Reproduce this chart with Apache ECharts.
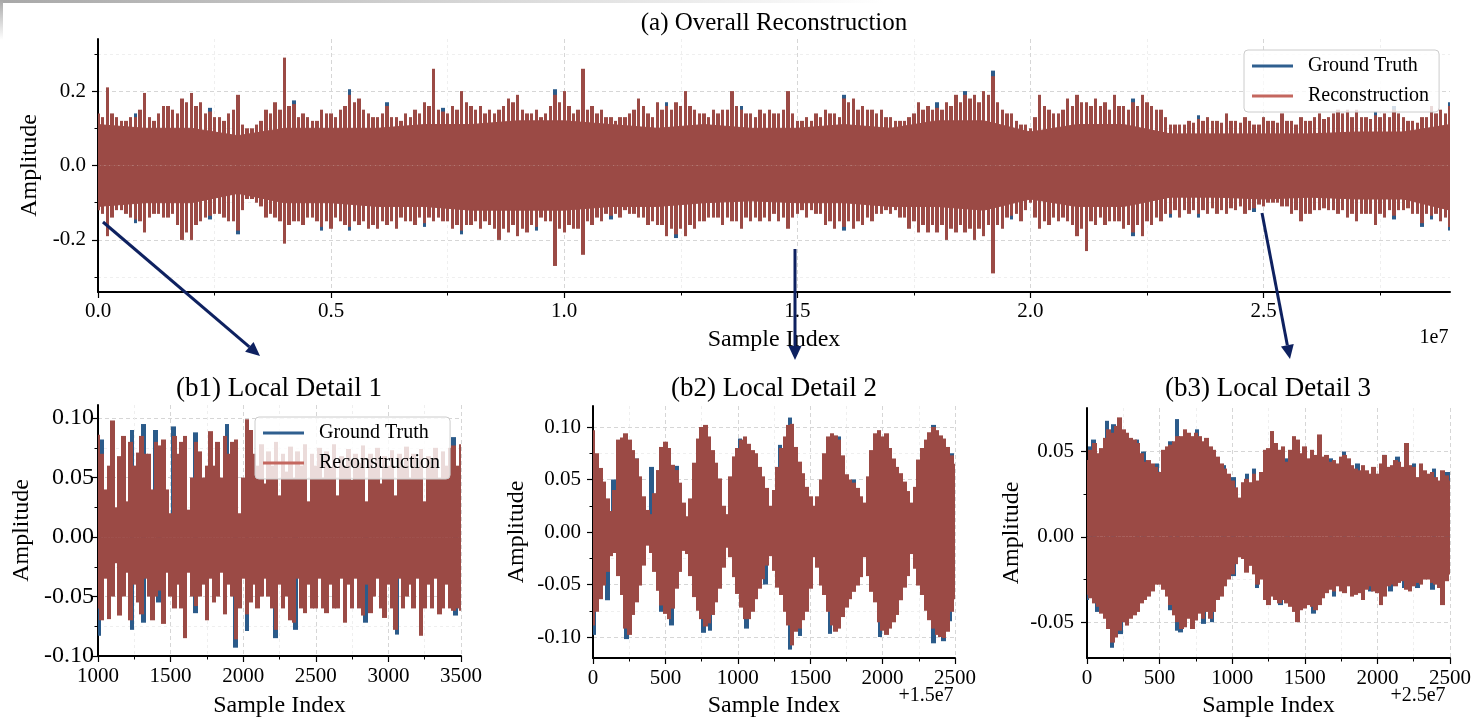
<!DOCTYPE html>
<html>
<head>
<meta charset="utf-8">
<title>Reconstruction</title>
<script src="https://cdn.jsdelivr.net/npm/echarts@6/dist/echarts.min.js"></script>
<style>
    html, body { margin: 0; padding: 0; background: #fff; }
    #main { width: 1474px; height: 719px; }
</style>
</head>
<body>
<div id="main"></div>
<script>
// ---- (a) overall: x in units of 1e7 samples ----
var topStep = 0.02;       // spike bins
var topBodyStep = 0.1;    // dense band level
var topBodyHi = [.11,.10,.10,.08,.10,.10,.10,.11,.11,.12, .12,.11,.10,.11,.10,.10,.11,.10,.12,.12, .09,.11,.11,.085,.085,.085,.085,.09,.09,.11];
var topBodyLo = [-.11,-.10,-.10,-.075,-.10,-.10,-.11,-.11,-.12,-.12, -.12,-.11,-.11,-.10,-.095,-.10,-.10,-.11,-.11,-.12, -.09,-.11,-.11,-.085,-.085,-.09,-.085,-.09,-.09,-.12];
// tallest spike in each bin (bins at 0, 0.02, 0.04 ...)
var topSpkHi = [
    .14,.21,.13,.12,.13,.195,.12,.16,.15,.18,
    .195,.17,.145,.13,.14,.19,.10,.11,.15,.17,
    .29,.165,.14,.12,.15,.14,.15,.19,.18,.14,
    .13,.16,.13,.14,.15,.17,.26,.145,.16,.20,
    .16,.16,.15,.15,.18,.19,.14,.15,.14,.19,
    .20,.14,.26,.16,.15,.13,.13,.14,.18,.14,
    .17,.16,.17,.20,.15,.14,.15,.15,.20,.15,
    .14,.15,.15,.14,.20,.12,.13,.14,.15,.14,
    .18,.18,.16,.15,.15,.13,.12,.13,.17,.16,
    .155,.17,.19,.19,.19,.20,.24,.15,.14,.11,
    .10,.19,.15,.14,.18,.19,.17,.18,.17,.19,
    .16,.17,.19,.16,.15,.11,.11,.12,.125,.13,
    .12,.14,.12,.13,.11,.13,.12,.14,.12,.13,
    .12,.14,.13,.15,.15,.15,.13,.135,.14,.15,
    .13,.12,.13,.16,.15,.16
];
var topSpkLo = [
    -.12,-.19,-.12,-.13,-.145,-.18,-.13,-.14,-.13,-.20,
    -.20,-.15,-.135,-.13,-.15,-.175,-.09,-.10,-.14,-.14,
    -.21,-.15,-.16,-.14,-.165,-.17,-.15,-.165,-.16,-.17,
    -.17,-.16,-.17,-.15,-.16,-.155,-.15,-.15,-.17,-.175,
    -.16,-.17,-.16,-.20,-.18,-.19,-.18,-.165,-.15,-.27,
    -.18,-.17,-.24,-.16,-.15,-.135,-.14,-.13,-.14,-.16,
    -.16,-.19,-.185,-.19,-.17,-.15,-.14,-.16,-.15,-.17,
    -.15,-.15,-.15,-.15,-.17,-.13,-.14,-.13,-.16,-.17,
    -.165,-.17,-.16,-.15,-.13,-.13,-.14,-.17,-.18,-.18,
    -.18,-.20,-.18,-.18,-.20,-.19,-.29,-.17,-.135,-.15,
    -.10,-.17,-.16,-.15,-.15,-.19,-.23,-.16,-.16,-.15,
    -.17,-.18,-.19,-.16,-.15,-.13,-.14,-.13,-.13,-.13,
    -.13,-.13,-.12,-.13,-.115,-.11,-.10,-.11,-.13,-.15,
    -.13,-.12,-.12,-.13,-.14,-.15,-.13,-.16,-.14,-.135,
    -.12,-.13,-.155,-.135,-.15,-.165
];
// in-between spikes (at 0.01, 0.03, 0.05 ...)
var topMidHi = [
    .13,.14,.12,.13,.15,.13,.14,.16,.14,.17,
    .16,.14,.13,.12,.15,.11,.10,.12,.14,.15,
    .16,.13,.13,.12,.14,.13,.16,.17,.15,.13,
    .14,.13,.12,.13,.14,.16,.15,.14,.15,.17,
    .15,.14,.14,.16,.17,.15,.14,.13,.16,.17,
    .16,.15,.15,.14,.13,.12,.13,.15,.16,.13,
    .15,.15,.16,.16,.14,.13,.14,.15,.16,.14,
    .13,.14,.14,.15,.14,.12,.12,.13,.14,.13,
    .17,.15,.15,.14,.13,.12,.12,.14,.15,.15,
    .15,.16,.17,.18,.17,.19,.17,.14,.12,.11,
    .13,.16,.14,.15,.16,.17,.16,.16,.15,.16,
    .15,.16,.17,.15,.13,.11,.11,.115,.12,.12,
    .115,.12,.115,.12,.11,.12,.115,.12,.11,.12,
    .13,.125,.14,.14,.13,.13,.125,.13,.13,.14,
    .12,.115,.13,.14,.14
];
var topMidLo = [
    -.13,-.14,-.12,-.14,-.15,-.14,-.13,-.14,-.16,-.18,
    -.16,-.14,-.13,-.14,-.15,-.12,-.09,-.11,-.13,-.15,
    -.16,-.15,-.14,-.15,-.15,-.14,-.16,-.15,-.15,-.16,
    -.15,-.15,-.14,-.15,-.14,-.14,-.14,-.15,-.16,-.16,
    -.15,-.15,-.17,-.17,-.16,-.17,-.16,-.14,-.15,-.17,
    -.16,-.17,-.15,-.14,-.13,-.13,-.12,-.13,-.14,-.15,
    -.16,-.17,-.17,-.16,-.15,-.14,-.14,-.14,-.15,-.14,
    -.14,-.14,-.13,-.14,-.14,-.12,-.12,-.13,-.15,-.15,
    -.15,-.15,-.14,-.13,-.12,-.12,-.14,-.15,-.16,-.16,
    -.16,-.17,-.16,-.17,-.17,-.16,-.16,-.14,-.13,-.12,
    -.14,-.15,-.14,-.14,-.16,-.17,-.15,-.14,-.15,-.15,
    -.16,-.16,-.15,-.14,-.13,-.12,-.12,-.12,-.12,-.115,
    -.12,-.115,-.11,-.12,-.105,-.10,-.10,-.11,-.12,-.13,
    -.12,-.115,-.12,-.12,-.13,-.13,-.13,-.13,-.12,-.12,
    -.115,-.13,-.13,-.13,-.14
];
// ground truth showing past the reconstruction
var topGt = [[0.08,.14],[0.24,.155],[0.42,.175],[0.54,.205],[0.62,.17],[0.74,.155],[0.98,.205],[1.22,.17],[1.38,.16],
    [1.60,.19],[1.80,.17],[1.86,.20],[1.92,.255],[2.22,.18],[2.36,.135],[2.74,.145],[2.78,.16],[2.90,.17],
    [0.08,-.155],[0.24,-.145],[0.30,-.185],[0.48,-.175],[0.54,-.175],[0.70,-.165],[0.78,-.185],[0.94,-.175],[1.10,-.145],
    [1.24,-.195],[1.60,-.175],[1.96,-.145],[2.22,-.19],[2.30,-.14],[2.36,-.14],[2.48,-.125],[2.78,-.145],[2.84,-.165],
    [2.86,-.145],[2.90,-.175]];

// ---- local details: bins of 25 samples ----
var binStep = 25;
var b1Start = 1000;
var b1Hi = [
    .086,.07,.04,.06,.098,.025,.068,.085,.03,.08,
    .06,.071,.085,.07,.07,.04,.08,.077,.082,.04,
    .02,.085,.07,.08,.085,.023,.05,.08,.072,.05,
    .06,.089,.06,.08,.05,.085,.07,.08,.082,.02,
    .05,.099,.09,.07,.06,.078,.045,.072,.06,.08,
    .035,.07,.055,.076,.05,.072,.06,.078,.03,.07,
    .06,.075,.05,.072,.058,.078,.035,.068,.06,.074,
    .048,.07,.062,.077,.03,.07,.058,.075,.045,.068,
    .06,.073,.035,.07,.06,.076,.05,.07,.058,.074,
    .03,.068,.06,.075,.05,.072,.06,.075,.077,.06,
    .078
];
var b1Lo = [
    -.06,-.07,-.035,-.069,-.05,-.022,-.066,-.05,-.03,-.07,
    -.04,-.055,-.065,-.035,-.05,-.07,-.05,-.045,-.073,-.03,
    -.05,-.06,-.04,-.06,-.085,-.03,-.05,-.058,-.05,-.04,
    -.07,-.035,-.055,-.05,-.03,-.065,-.04,-.05,-.086,-.06,
    -.035,-.065,-.055,-.04,-.06,-.05,-.035,-.05,-.06,-.078,
    -.04,-.06,-.05,-.07,-.072,-.035,-.06,-.064,-.04,-.06,
    -.06,-.035,-.06,-.064,-.04,-.06,-.06,-.035,-.072,-.04,
    -.06,-.035,-.06,-.066,-.04,-.064,-.05,-.035,-.06,-.068,
    -.04,-.06,-.078,-.035,-.06,-.05,-.04,-.06,-.035,-.083,
    -.06,-.04,-.06,-.035,-.065,-.06,-.04,-.06,-.062,-.06,
    -.062
];
var b1Gt = [[1028,.082],[1234,.09],[1315,.095],[1395,.09],[1521,.093],[1670,.088],[1888,.095],[3449,.084],
    [1005,-.083],[1234,-.078],[1315,-.072],[1418,-.055],[1670,-.064],[1946,-.093],[2026,-.079],[2221,-.085],
    [2359,-.078],[2841,-.072],[3059,-.082],[3461,-.066]];

var b2Start = 0;
var b2Hi = [
    .097,.075,.061,.048,.032,.020,.040,.088,.090,.094,
    .088,.078,.070,.053,.034,.021,.017,.037,.059,.081,
    .086,.080,.064,.059,.047,.028,.015,.032,.066,.089,
    .100,.102,.091,.078,.066,.051,.025,.017,.053,.072,
    .080,.088,.091,.084,.078,.075,.062,.053,.042,.025,
    .040,.062,.080,.091,.102,.103,.081,.067,.056,.043,
    .034,.025,.034,.050,.075,.091,.094,.092,.088,.073,
    .055,.050,.047,.042,.034,.028,.053,.078,.094,.097,
    .091,.094,.080,.070,.062,.056,.048,.039,.028,.043,
    .069,.080,.088,.095,.100,.097,.092,.089,.081,.073,
    .065
];
var b2Lo = [
    -.089,-.076,-.064,-.051,-.038,-.023,-.020,-.042,-.060,-.092,
    -.098,-.079,-.067,-.051,-.032,-.013,-.020,-.038,-.056,-.070,
    -.078,-.083,-.073,-.054,-.038,-.018,-.021,-.042,-.062,-.075,
    -.083,-.090,-.087,-.079,-.067,-.054,-.034,-.015,-.024,-.043,
    -.059,-.072,-.083,-.083,-.076,-.064,-.054,-.045,-.032,-.023,
    -.037,-.053,-.060,-.076,-.089,-.108,-.095,-.092,-.084,-.076,
    -.054,-.024,-.034,-.051,-.060,-.076,-.089,-.095,-.092,-.081,
    -.072,-.064,-.057,-.051,-.043,-.024,-.042,-.057,-.067,-.086,
    -.094,-.098,-.092,-.086,-.079,-.065,-.053,-.042,-.021,-.035,
    -.051,-.060,-.075,-.084,-.092,-.098,-.100,-.101,-.095,-.076,
    -.064
];
var b2Gt = [[2,-.098],[100,-.065],[232,-.102],[475,-.076],[543,-.089],[762,-.096],[808,-.094],[1061,-.092],[1190,-.05],
    [1360,-.112],[1430,-.099],[1637,-.097],[1700,-.09],[1982,-.1],[2350,-.106],[2420,-.104],[2465,-.085],
    [140,.05],[302,.07],[405,.062],[578,.063],[1015,.089],[1291,.083],[1360,.109],[1694,.091],[1798,.05],[2350,.102],[2480,.075]];

var b3Start = 0;
var b3Hi = [
    .045,.051,.055,.049,.052,.058,.063,.061,.065,.070,
    .063,.061,.058,.057,.055,.049,.044,.045,.043,.041,
    .038,.051,.053,.054,.056,.059,.059,.063,.061,.059,
    .061,.059,.056,.058,.053,.051,.047,.043,.040,.037,
    .033,.029,.023,.032,.034,.032,.037,.033,.038,.051,
    .052,.062,.055,.051,.053,.044,.051,.059,.057,.049,
    .053,.046,.051,.048,.060,.047,.048,.044,.045,.043,
    .047,.048,.046,.042,.040,.039,.042,.039,.037,.041,
    .037,.043,.048,.041,.042,.045,.044,.041,.055,.042,
    .041,.035,.043,.039,.037,.038,.035,.033,.039,.036,
    .033
];
var b3Lo = [
    -.034,-.036,-.039,-.041,-.045,-.048,-.054,-.062,-.059,-.055,
    -.050,-.052,-.048,-.046,-.044,-.039,-.037,-.035,-.032,-.028,
    -.028,-.031,-.035,-.040,-.046,-.050,-.054,-.053,-.048,-.054,
    -.049,-.045,-.048,-.044,-.048,-.044,-.037,-.035,-.029,-.025,
    -.022,-.016,-.012,-.013,-.021,-.017,-.022,-.028,-.025,-.037,
    -.040,-.035,-.037,-.039,-.037,-.039,-.041,-.044,-.050,-.043,
    -.042,-.040,-.041,-.043,-.040,-.036,-.033,-.031,-.032,-.029,
    -.032,-.033,-.029,-.035,-.034,-.033,-.037,-.031,-.029,-.032,
    -.033,-.040,-.035,-.029,-.028,-.029,-.027,-.026,-.031,-.032,
    -.029,-.027,-.028,-.025,-.025,-.027,-.028,-.030,-.040,-.026,
    -.022
];
var b3Gt = [[23,.053],[46,.057],[138,.068],[184,.066],[345,.057],[391,.05],[483,.043],[575,.056],[621,.069],[758,.063],
    [942,.042],[1011,.035],[1103,.037],[1149,.04],[1379,.046],[1677,.046],[1769,.05],[1861,.043],[2045,.048],
    [2137,.047],[2252,.043],[2389,.04],[2481,.038],
    [0,-.037],[69,-.044],[173,-.065],[230,-.057],[575,-.043],[621,-.055],[643,-.056],[804,-.051],[862,-.05],
    [1011,-.023],[1172,-.03],[1333,-.04],[1562,-.045],[1700,-.035],[1953,-.032],[2091,-.032],[2183,-.03],
    [2275,-.03],[2378,-.031]];

// tick labels
var topXTicks = [0, 0.5, 1.0, 1.5, 2.0, 2.5];
var topXMinor = [0.25, 0.75, 1.25, 1.75, 2.25, 2.75];
var topYTicks = [-0.2, 0, 0.2];
var topYMinor = [-0.3, -0.1, 0.1, 0.3];
var b1XTicks = [1000, 1500, 2000, 2500, 3000, 3500];
var b1XMinor = [1250, 1750, 2250, 2750, 3250];
var bXTicks = [0, 500, 1000, 1500, 2000, 2500];
var bXMinor = [250, 750, 1250, 1750, 2250];
var b12YTicks = [-0.1, -0.05, 0, 0.05, 0.1];
var b12YMinor = [-0.075, -0.025, 0.025, 0.075];
var b3YTicks = [-0.05, 0, 0.05];
var b3YMinor = [-0.025, 0.025];

var FONT = 'Liberation Serif';
var BLUE = '#2b5b8a', RED = '#9b4a45';

function seq(x0, step, vals) {
    return vals.map(function (v, i) { return [x0 + i * step, v]; });
}

// vertical bar from 0 to the value, snapped to whole pixels so neighbours join
function needles(name, g, data, color, w, z) {
    return {
        type: 'custom', name: name, xAxisIndex: g * 2, yAxisIndex: g * 2, z: z, silent: true, clip: true,
        itemStyle: { color: color },
        data: data,
        renderItem: function (params, api) {
            var a = api.coord([api.value(0), 0]);
            var b = api.coord([api.value(0), api.value(1)]);
            var x0 = Math.floor(a[0] - w / 2), x1 = Math.ceil(a[0] + w / 2);
            return {
                type: 'rect',
                shape: { x: x0, y: Math.min(a[1], b[1]), width: x1 - x0, height: Math.abs(b[1] - a[1]) },
                style: { fill: color }
            };
        }
    };
}

function band(g, x0, step, vals) {
    return {
        type: 'line', name: 'Reconstruction', xAxisIndex: g * 2, yAxisIndex: g * 2, z: 2, silent: true,
        data: seq(x0, step, vals), symbol: 'none',
        lineStyle: { width: 1, color: RED }, itemStyle: { color: RED },
        areaStyle: { color: RED, opacity: 1, origin: 'auto' }
    };
}

function xAxes(g, min, max, ticks, minor, fmt, name, gap, margin, size) {
    return [{
        type: 'value', gridIndex: g, min: min, max: max, position: 'bottom',
        axisLine: { show: true, onZero: false, lineStyle: { color: '#000', width: 2 } },
        axisTick: { show: true, length: 6, customValues: ticks, lineStyle: { color: '#000', width: 1.2 } },
        axisLabel: { customValues: ticks, formatter: fmt, fontFamily: FONT, fontSize: size, color: '#000', margin: margin },
        splitLine: { show: true, lineStyle: { color: '#d6d6d6', type: [4, 3], width: 1 } },
        name: name, nameLocation: 'middle', nameGap: gap,
        nameTextStyle: { fontFamily: FONT, fontSize: 24, color: '#000' }
    }, {
        type: 'value', gridIndex: g, min: min, max: max, position: 'bottom',
        axisLine: { show: false, onZero: false },
        axisTick: { show: true, length: 3.5, customValues: minor, lineStyle: { color: '#000', width: 1 } },
        axisLabel: { show: false },
        splitLine: { show: true, lineStyle: { color: '#efefef', type: [3, 3], width: 1 } }
    }];
}

function yAxes(g, min, max, ticks, minor, fmt, gap, margin, size) {
    return [{
        type: 'value', gridIndex: g, min: min, max: max, position: 'left',
        axisLine: { show: true, onZero: false, lineStyle: { color: '#000', width: 2 } },
        axisTick: { show: true, length: 6, customValues: ticks, lineStyle: { color: '#000', width: 1.2 } },
        axisLabel: { customValues: ticks, formatter: fmt, fontFamily: FONT, fontSize: size, color: '#000', margin: margin },
        splitLine: { show: true, lineStyle: { color: '#d6d6d6', type: [4, 3], width: 1 } },
        name: 'Amplitude', nameLocation: 'middle', nameGap: gap,
        nameTextStyle: { fontFamily: FONT, fontSize: 24, color: '#000' }
    }, {
        type: 'value', gridIndex: g, min: min, max: max, position: 'left',
        axisLine: { show: false, onZero: false },
        axisTick: { show: true, length: 3.5, customValues: minor, lineStyle: { color: '#000', width: 1 } },
        axisLabel: { show: false },
        splitLine: { show: true, lineStyle: { color: '#efefef', type: [3, 3], width: 1 } }
    }];
}

function f1(v) { return v.toFixed(1); }
function f2(v) { return v.toFixed(2); }
function f0(v) { return String(Math.round(v)); }

var legendBase = {
    orient: 'vertical', itemWidth: 41, itemHeight: 3, itemGap: 10, selectedMode: false,
    padding: [6, 10, 6, 8], borderColor: '#cccccc', borderWidth: 1, borderRadius: 4,
    backgroundColor: 'rgba(255,255,255,0.8)',
    textStyle: { fontFamily: FONT, fontSize: 20, color: '#000', padding: [0, 0, 0, 10] },
    data: [
        { name: 'Ground Truth', icon: 'rect', itemStyle: { color: '#2f5f8f' } },
        { name: 'Reconstruction', icon: 'rect', itemStyle: { color: '#c4675f' } }
    ]
};

var myChart = echarts.init(document.getElementById('main'), null, { renderer: 'canvas' });

var xAxis = [].concat(
    xAxes(0, 0, 2.9, topXTicks, topXMinor, f1, 'Sample Index', 36, 9, 21),
    xAxes(1, 1000, 3500, b1XTicks, b1XMinor, f0, 'Sample Index', 38, 10, 21),
    xAxes(2, 0, 2500, bXTicks, bXMinor, f0, 'Sample Index', 36, 10, 21),
    xAxes(3, 0, 2500, bXTicks, bXMinor, f0, 'Sample Index', 36, 10, 21)
);
var yAxis = [].concat(
    yAxes(0, -0.34, 0.34, topYTicks, topYMinor, f1, 52, 12, 21),
    yAxes(1, -0.1, 0.111, b12YTicks, b12YMinor, f2, 64, 4, 24),
    yAxes(2, -0.12, 0.12, b12YTicks, b12YMinor, f2, 64, 12, 21),
    yAxes(3, -0.071, 0.0755, b3YTicks, b3YMinor, f2, 63, 13, 21)
);

var series = [
    needles('Ground Truth', 0, topGt, BLUE, 2.4, 1),
    band(0, 0, topBodyStep, topBodyHi),
    band(0, 0, topBodyStep, topBodyLo),
    needles('Reconstruction', 0, seq(0.01, topStep, topMidHi), RED, 2.4, 2),
    needles('Reconstruction', 0, seq(0.01, topStep, topMidLo), RED, 2.4, 2),
    needles('Reconstruction', 0, seq(0, topStep, topSpkHi), RED, 2.4, 2),
    needles('Reconstruction', 0, seq(0, topStep, topSpkLo), RED, 2.4, 2),

    needles('Ground Truth', 1, b1Gt, BLUE, 3.63, 1),
    needles('Reconstruction', 1, seq(b1Start, binStep, b1Hi), RED, 3.63, 2),
    needles('Reconstruction', 1, seq(b1Start, binStep, b1Lo), RED, 3.63, 2),

    needles('Ground Truth', 2, b2Gt, BLUE, 3.63, 1),
    needles('Reconstruction', 2, seq(b2Start, binStep, b2Hi), RED, 3.63, 2),
    needles('Reconstruction', 2, seq(b2Start, binStep, b2Lo), RED, 3.63, 2),

    needles('Ground Truth', 3, b3Gt, BLUE, 3.63, 1),
    needles('Reconstruction', 3, seq(b3Start, binStep, b3Hi), RED, 3.63, 2),
    needles('Reconstruction', 3, seq(b3Start, binStep, b3Lo), RED, 3.63, 2)
];

function label(txt, x, y, size) {
    return { type: 'text', x: x, y: y, z: 50,
        style: { text: txt, fontFamily: FONT, fontSize: size, fill: '#000', align: 'center', verticalAlign: 'middle' } };
}
function arrow(x1, y1, x2, y2) {
    var dx = x2 - x1, dy = y2 - y1, len = Math.sqrt(dx * dx + dy * dy);
    var ux = dx / len, uy = dy / len, hl = 14, hw = 6.5;
    var bx = x2 - ux * hl, by = y2 - uy * hl;
    return [
        { type: 'line', z: 60, shape: { x1: x1, y1: y1, x2: bx, y2: by }, style: { stroke: '#0e2160', lineWidth: 3 } },
        { type: 'polygon', z: 60, shape: { points: [[x2, y2], [bx - uy * hw, by + ux * hw], [bx + uy * hw, by - ux * hw]] },
          style: { fill: '#0e2160' } }
    ];
}

var option = {
    animation: false,
    backgroundColor: '#ffffff',
    grid: [
        { left: 98, top: 39, width: 1352, height: 253 },
        { left: 98, top: 405, width: 363, height: 252 },
        { left: 593, top: 406, width: 362, height: 253 },
        { left: 1087, top: 408, width: 363, height: 251 }
    ],
    legend: [
        echarts.util.merge({ left: 1244, top: 50 }, legendBase, true),
        echarts.util.merge({ left: 255, top: 417 }, legendBase, true)
    ],
    xAxis: xAxis,
    yAxis: yAxis,
    series: series,
    graphic: [
        { type: 'rect', z: 1, shape: { x: 0, y: 0, width: 1474, height: 3 },
          style: { fill: new echarts.graphic.LinearGradient(0, 0, 1, 0, [{ offset: 0, color: '#a8a8a8' }, { offset: 0.6, color: '#ffffff' }]) } },
        { type: 'rect', z: 1, shape: { x: 0, y: 0, width: 3, height: 40 },
          style: { fill: new echarts.graphic.LinearGradient(0, 0, 0, 1, [{ offset: 0, color: '#a8a8a8' }, { offset: 1, color: '#ffffff' }]) } },
        label('(a) Overall Reconstruction', 774, 23, 25),
        label('(b1) Local Detail 1', 279, 389, 27),
        label('(b2) Local Detail 2', 774, 389, 27),
        label('(b3) Local Detail 3', 1268, 389, 27),
        label('1e7', 1434, 338, 20),
        label('+1.5e7', 926, 696, 20),
        label('+2.5e7', 1418, 696, 20)
    ].concat(arrow(103, 222, 260, 356), arrow(795, 249, 795, 360), arrow(1262, 213, 1290, 359))
};

myChart.setOption(option);

window.addEventListener('resize', function () {
    myChart.resize();
});
</script>
</body>
</html>
